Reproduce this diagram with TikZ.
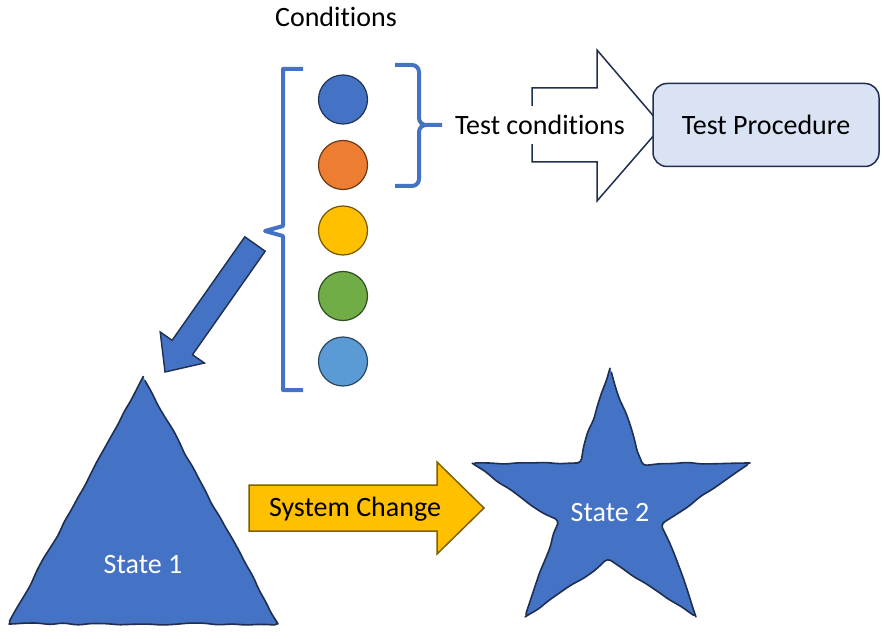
\documentclass[tikz,border=0pt]{standalone}
\usepackage{fontspec}
\setmainfont{Carlito}[Ligatures=NoCommon]
\usetikzlibrary{decorations.pathmorphing}
\definecolor{blueA}{HTML}{4472C4}
\definecolor{orangeA}{HTML}{ED7D31}
\definecolor{goldA}{HTML}{FFC000}
\definecolor{greenA}{HTML}{70AD47}
\definecolor{skyA}{HTML}{5B9BD5}
\definecolor{navyA}{HTML}{1F2F4F}
\definecolor{boxA}{HTML}{DAE3F3}
\definecolor{brownA}{HTML}{7F6000}
\tikzset{
  label font/.style = {font=\fontsize{28}{34}\selectfont},
  bracketline/.style = {line width=4pt, color=blueA, line join=round},
  sketchy/.style = {rounded corners=4pt, decorate, decoration={random steps, segment length=14pt, amplitude=1.1pt}},
  stateshape/.style = {fill=blueA, draw=navyA, line width=1.6pt, line join=round}
}
\begin{document}
\begin{tikzpicture}[x=1pt, y=-1pt]
        \useasboundingbox (0,0) rectangle (886,639);
        \pgfmathsetseed{7}

        \node[label font] (conditions) at (336,17) {Condit\kern0pt ions};

        % bracket round all conditions
        \draw[bracketline] (303,69) -- (283,69) -- (283,226) -- (265,231) -- (283,236) -- (283,390) -- (303,390);

        % condition circles
        \foreach \col [count=\i] in {blueA, orangeA, goldA, greenA, skyA}
            \draw[fill=\col, draw=\col!45!black, line width=1.2pt] (343,{34+65.5*\i}) circle (24.5);

        % brace round the first two
        \draw[bracketline] (395,65) -- (412,65) to[out=0, in=90] (419,72) -- (419,118)
            to[out=-90, in=180] (426,125) -- (442,125);
        \draw[bracketline] (426,125) to[out=180, in=90] (419,132) -- (419,179)
            to[out=-90, in=0] (412,186) -- (395,186);

        % white block arrow
        \draw[fill=white, draw=navyA, line width=1.5pt, line join=miter]
            (532,88) -- (597,88) -- (597,50) -- (662,126) -- (597,201) -- (597,162) -- (532,162) -- cycle;
        \node[label font, fill=white, inner xsep=1pt, inner ysep=9pt] (testcond) at (540,125) {Test condit\kern0pt ions};

        \node[label font, draw=navyA, fill=boxA, line width=1.5pt, rounded corners=14pt,
              minimum width=226pt, minimum height=83pt] (procedure) at (766,125) {Test Procedure};

        % diagonal arrow
        \draw[fill=blueA, draw=navyA, line width=1.4pt]
            (244.8,236.8) -- (265.2,251.2) -- (192.5,354.7) -- (204.4,363.0) -- (165,372)
            -- (160.2,332.0) -- (172.1,340.3) -- cycle;

        % state 1
        \draw[stateshape, sketchy] (143,377) -- (278,624) -- (9,624) -- cycle;
        \node[label font, text=white] (state1) at (143,565) {State 1};

        % system change arrow
        \draw[fill=goldA, draw=brownA, line width=1.5pt, line join=miter]
            (249,485) -- (437,485) -- (437,462) -- (484,508) -- (437,554) -- (437,531) -- (249,531) -- cycle;
        \node[label font] (change) at (355,509) {System Change};

        % state 2
        \draw[stateshape, sketchy] (610,368) -- (642,463) -- (750,463) -- (663,523) -- (696,617)
            -- (610,560) -- (525,617) -- (558,523) -- (472,463) -- (578,463) -- cycle;
        \node[label font, text=white] (state2) at (610,513) {State 2};

    \end{tikzpicture}
\end{document}
